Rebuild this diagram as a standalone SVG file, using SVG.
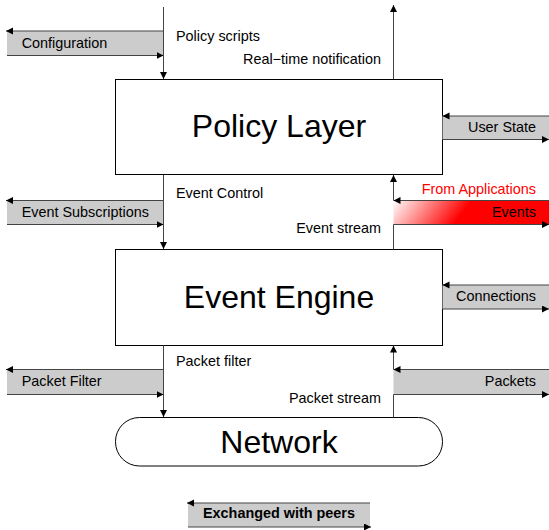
<svg xmlns="http://www.w3.org/2000/svg" width="549" height="530" viewBox="0 0 549 530">
<defs>
<style>
.box{fill:#fff;stroke:#000;stroke-width:1}
.band{fill:#cccccc;stroke:none}
.ln{stroke:#444;stroke-width:1;fill:none}
.arr{marker-end:url(#ah)}
.t{font-family:"Liberation Sans",Arial,sans-serif;font-size:14.4px;fill:#000}
.big{font-family:"Liberation Sans",Arial,sans-serif;font-size:32px;fill:#000;text-anchor:middle}
.r{text-anchor:end}
.red{fill:#ff0000}
.b{font-weight:bold;text-anchor:middle}
</style>
<marker id="ah" markerWidth="8" markerHeight="8" viewBox="0 0 8 8" refX="7" refY="3.5" orient="auto" markerUnits="userSpaceOnUse"><path d="M0,0 L7,3.5 L0,7z" fill="#000"/></marker>
<linearGradient id="redg" gradientUnits="userSpaceOnUse" x1="395" y1="198" x2="445" y2="236"><stop offset="0" stop-color="#fff"/><stop offset="1" stop-color="#f00"/></linearGradient>
</defs>

<g id="policy-layer">
<rect class="box" x="115.5" y="79.5" width="327" height="95"/>
<text class="big" x="279" y="137">Policy Layer</text>
</g>
<g id="event-engine">
<rect class="box" x="115.5" y="249.5" width="327" height="96"/>
<text class="big" x="279" y="308">Event Engine</text>
</g>
<g id="network">
<rect class="box" x="115.5" y="417.5" width="327" height="48.5" rx="24" ry="24"/>
<text class="big" x="279" y="453">Network</text>
</g>

<g id="configuration">
<rect class="band" x="7" y="31" width="156.5" height="24"/>
<path class="ln arr" d="M163.5,31 H6"/>
<path class="ln arr" d="M7,55.5 H163.5"/>
<text class="t" x="21.7" y="48">Configuration</text>
</g>
<g id="user-state">
<rect class="band" x="442.5" y="116" width="106.5" height="23.5"/>
<path class="ln arr" d="M549,116 H442.5"/>
<path class="ln arr" d="M442.5,139.5 H549"/>
<text class="t r" x="536" y="132">User State</text>
</g>
<g id="event-subscriptions">
<rect class="band" x="7" y="200.5" width="156.5" height="24"/>
<path class="ln arr" d="M163.5,200.5 H6"/>
<path class="ln arr" d="M7,224.5 H163.5"/>
<text class="t" x="21.7" y="217">Event Subscriptions</text>
</g>
<g id="events">
<rect x="393.5" y="200.5" width="155.5" height="24" fill="url(#redg)"/>
<path class="ln arr" d="M549,200.5 H393.5"/>
<path class="ln arr" d="M393.5,224.5 H549"/>
<text class="t red r" x="536" y="194">From Applications</text>
<text class="t r" x="536" y="217">Events</text>
</g>
<g id="connections">
<rect class="band" x="442.5" y="285" width="106.5" height="24"/>
<path class="ln arr" d="M549,285 H442.5"/>
<path class="ln arr" d="M442.5,309 H549"/>
<text class="t r" x="536" y="301">Connections</text>
</g>
<g id="packet-filter">
<rect class="band" x="7" y="369.5" width="156.5" height="25"/>
<path class="ln arr" d="M163.5,369.5 H6"/>
<path class="ln arr" d="M7,394.5 H163.5"/>
<text class="t" x="21.7" y="386">Packet Filter</text>
</g>
<g id="packets">
<rect class="band" x="393.5" y="369.5" width="155.5" height="25"/>
<path class="ln arr" d="M549,369.5 H393.5"/>
<path class="ln arr" d="M393.5,394.5 H549"/>
<text class="t r" x="536" y="386">Packets</text>
</g>
<g id="legend">
<rect class="band" x="188" y="503" width="182" height="24"/>
<path class="ln arr" d="M370,503 H187"/>
<path class="ln arr" d="M188,527 H371"/>
<text class="t b" x="279" y="517.5">Exchanged with peers</text>
</g>

<g id="connectors">
<path class="ln arr" d="M163.5,7 V79"/>
<path class="ln arr" d="M393.5,79 V5"/>
<path class="ln arr" d="M163.5,175 V249"/>
<path class="ln arr" d="M393.5,200.5 V175"/>
<path class="ln" d="M393.5,249.5 V224.5"/>
<path class="ln arr" d="M163.5,345.5 V417"/>
<path class="ln arr" d="M393.5,369.5 V345.5"/>
<path class="ln" d="M393.5,417.5 V394.5"/>
</g>
<g id="labels">
<text class="t" x="176" y="41">Policy scripts</text>
<text class="t r" x="381" y="64">Real−time notification</text>
<text class="t" x="176" y="198">Event Control</text>
<text class="t r" x="381" y="233">Event stream</text>
<text class="t" x="176" y="366">Packet filter</text>
<text class="t r" x="381" y="403">Packet stream</text>
</g>
</svg>
